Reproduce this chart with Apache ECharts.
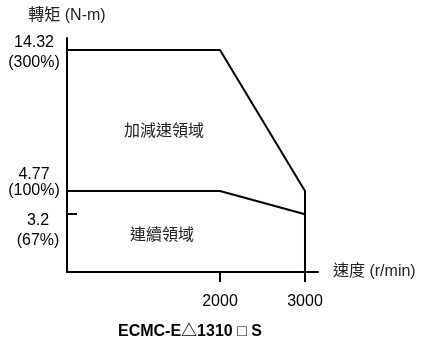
<!DOCTYPE html>
<html>
<head>
<meta charset="utf-8">
<script src="https://cdn.jsdelivr.net/npm/echarts@6/dist/echarts.min.js"></script>
<style>
  html, body { margin: 0; padding: 0; background: #fff; }
  #main { width: 421px; height: 342px; }
</style>
</head>
<body>
<div id="main"></div>
<script>
const FONT = "'Liberation Sans', 'Noto Sans CJK TC', sans-serif";

// speed (r/min) / torque (N-m)
const peakSpeed = [200, 2000, 3000];
const peakTorque = [14.32, 14.32, 4.77];
const ratedSpeed = [200, 2000, 3000];
const ratedTorque = [4.77, 4.77, 3.2];

const speedTicks = [2000, 3000];
const torqueTicks = [14.32, 4.77];      // peak / rated
const endTorqueTicks = [3.2];           // rated torque at 3000 r/min
const torquePercent = { 3.2: "(67%)", 4.77: "(100%)", 14.32: "(300%)" };

// axis range
const X_MIN = 200, X_MAX = 3153;
const Y_MIN = -0.716, Y_MAX = 15.133;

const chartDom = document.getElementById("main");
const myChart = echarts.init(chartDom);

const peakData = peakSpeed.map((s, i) => [s, peakTorque[i]]);
// right edge drops down to the speed axis
peakData.push([peakSpeed[peakSpeed.length - 1], Y_MIN]);
const ratedData = ratedSpeed.map((s, i) => [s, ratedTorque[i]]);

const txt = { fontFamily: FONT, fontSize: 16, color: "#000" };
const labelRich = {
  t: { ...txt, lineHeight: 20 },
  s: { ...txt, lineHeight: 16 },
  g6: { fontSize: 1, lineHeight: 6 },
  g16: { fontSize: 1, lineHeight: 16 },
  g32: { fontSize: 1, lineHeight: 32 },
};

// two-line torque label, nudged a little off its tick like the drawing
function torqueLabel(v) {
  const pct = torquePercent[v];
  if (v === 14.32) return "{g6| }\n{t|" + v + "}\n{t|" + pct + "}";
  if (v === 4.77) return "{s|" + v + "}\n{s|" + pct + "}\n{g16| }";
  return "{g32| }\n{t|" + v + "}\n{t|" + pct + "}";
}

const yBase = {
  type: "value",
  min: Y_MIN,
  max: Y_MAX,
  position: "left",
  splitLine: { show: false },
};

const option = {
  animation: false,
  textStyle: { fontFamily: FONT },
  grid: { left: 67, right: 103, top: 38, bottom: 70 },
  title: {
    text: "ECMC-E△1310 □ S",
    left: 118,
    top: 324,
    padding: 0,
    textStyle: { fontFamily: FONT, fontSize: 16, fontWeight: "bold", color: "#000" },
  },
  xAxis: {
    type: "value",
    min: X_MIN,
    max: X_MAX,
    name: "速度 (r/min)",
    nameLocation: "end",
    nameGap: 15,
    nameTextStyle: { fontFamily: FONT, fontSize: 16, color: "#222", verticalAlign: "middle", padding: [3, 0, 0, 0] },
    splitLine: { show: false },
    axisLine: { onZero: false, lineStyle: { color: "#000", width: 2 } },
    axisTick: { customValues: speedTicks, length: 10, lineStyle: { color: "#000", width: 2 } },
    axisLabel: {
      customValues: speedTicks,
      margin: 22,
      fontFamily: FONT,
      fontSize: 16,
      color: "#000",
      formatter: (v) => String(v),
    },
  },
  yAxis: [
    {
      ...yBase,
      name: "轉矩 (N-m)",
      nameLocation: "end",
      nameGap: 14,
      nameTextStyle: { fontFamily: FONT, fontSize: 16, color: "#222" },
      axisLine: { show: true, onZero: false, lineStyle: { color: "#000", width: 2 } },
      axisTick: { show: false },
      axisLabel: {
        customValues: torqueTicks,
        hideOverlap: false,
        margin: 33,
        align: "center",
        formatter: torqueLabel,
        rich: labelRich,
      },
    },
    {
      ...yBase,
      axisLine: { show: false, onZero: false },
      axisTick: {
        show: true,
        customValues: endTorqueTicks,
        inside: true,
        length: 10,
        lineStyle: { color: "#000", width: 2 },
      },
      axisLabel: {
        customValues: endTorqueTicks,
        hideOverlap: false,
        margin: 29,
        align: "center",
        formatter: torqueLabel,
        rich: labelRich,
      },
    },
  ],
  graphic: [
    {
      type: "text",
      x: 164,
      y: 132,
      style: { text: "加減速領域", font: "16px " + FONT, fill: "#222", textAlign: "center", textVerticalAlign: "middle" },
    },
    {
      type: "text",
      x: 162,
      y: 236,
      style: { text: "連續領域", font: "16px " + FONT, fill: "#222", textAlign: "center", textVerticalAlign: "middle" },
    },
  ],
  series: [
    {
      type: "line",
      yAxisIndex: 0,
      data: peakData,
      symbol: "none",
      lineStyle: { color: "#000", width: 2 },
    },
    {
      type: "line",
      yAxisIndex: 0,
      data: ratedData,
      symbol: "none",
      lineStyle: { color: "#000", width: 2 },
    },
  ],
};

option && myChart.setOption(option);
</script>
</body>
</html>
